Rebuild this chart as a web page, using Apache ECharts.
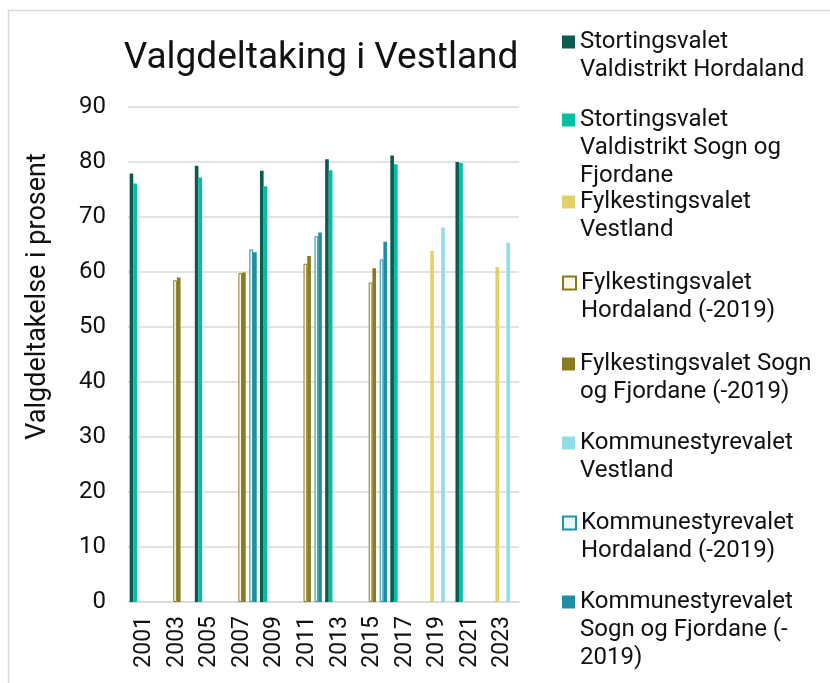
<!DOCTYPE html>
<html>
<head>
<meta charset="utf-8">
<script src="https://cdn.jsdelivr.net/npm/echarts@6/dist/echarts.min.js"></script>
<style>
  html, body { margin: 0; padding: 0; background: #fff; }
  #chart { width: 830px; height: 683px; }
</style>
</head>
<body>
<div id="chart"></div>
<script>
// valår (kategoriar)
const years = ['2001', '2003', '2005', '2007', '2009', '2011', '2013', '2015', '2017', '2019', '2021', '2023'];
const yTicks = [0, 90, 10]; // min, max, interval

// valdeltaking i prosent, null = ikkje val det året
const stortingHordaland = [77.9, null, 79.3, null, 78.4, null, 80.5, null, 81.2, null, 80.0, null];
const stortingSogn      = [76.1, null, 77.2, null, 75.6, null, 78.5, null, 79.6, null, 79.8, null];
const fylkeVestland     = [null, null, null, null, null, null, null, null, null, 63.8, null, 60.9];
const fylkeHordaland    = [null, 58.5, null, 59.8, null, 61.5, null, 58.1, null, null, null, null];
const fylkeSogn         = [null, 59.0, null, 59.9, null, 62.9, null, 60.7, null, null, null, null];
const kommuneVestland   = [null, null, null, null, null, null, null, null, null, 68.1, null, 65.3];
const kommuneHordaland  = [null, null, null, 64.1, null, 66.5, null, 62.3, null, null, null, null];
const kommuneSogn       = [null, null, null, 63.6, null, 67.2, null, 65.5, null, null, null, null];

const seriesNames = [
    'Stortingsvalet Valdistrikt Hordaland',
    'Stortingsvalet Valdistrikt Sogn og Fjordane',
    'Fylkestingsvalet Vestland',
    'Fylkestingsvalet Hordaland (-2019)',
    'Fylkestingsvalet Sogn og Fjordane (-2019)',
    'Kommunestyrevalet Vestland',
    'Kommunestyrevalet Hordaland (-2019)',
    'Kommunestyrevalet Sogn og Fjordane (-2019)'
];
// legend-tekst med linjeskift slik som i originalen
const legendLines = [
    ['Stortingsvalet', 'Valdistrikt Hordaland'],
    ['Stortingsvalet', 'Valdistrikt Sogn og', 'Fjordane'],
    ['Fylkestingsvalet', 'Vestland'],
    ['Fylkestingsvalet', 'Hordaland (-2019)'],
    ['Fylkestingsvalet Sogn', 'og Fjordane (-2019)'],
    ['Kommunestyrevalet', 'Vestland'],
    ['Kommunestyrevalet', 'Hordaland (-2019)'],
    ['Kommunestyrevalet', 'Sogn og Fjordane (-', '2019)']
];
const seriesData = [stortingHordaland, stortingSogn, fylkeVestland, fylkeHordaland,
    fylkeSogn, kommuneVestland, kommuneHordaland, kommuneSogn];

const styles = [
    { color: '#0b5c50' },
    { color: '#00bfa5' },
    { color: '#e1d16b' },
    { color: '#fbf9e8', borderColor: '#8a7a1e', borderWidth: 1 },
    { color: '#8a7a21' },
    { color: '#92dcea' },
    { color: '#e8f7fb', borderColor: '#2590a6', borderWidth: 1 },
    { color: '#1f8ea4' }
];

const legendMarkerY = [42, 120, 202, 283, 364, 443, 523, 602];
const lineH = 28;
const font = 'Roboto, "Noto Sans", sans-serif';
const textColor = '#111';

// markøren står midt på teksten, så tomme linjer over flyttar fyrste linje ned til markøren
const legends = seriesNames.map((name, i) => {
    const n = legendLines[i].length;
    const blank = new Array(n - 1).fill('');
    return {
        data: [name],
        left: 562,
        top: legendMarkerY[i] - (2 * n - 1) * lineH / 2,
        padding: 0,
        icon: 'rect',
        itemWidth: 13,
        itemHeight: 13,
        selectedMode: false,
        formatter: () => blank.concat(legendLines[i]).join('\n'),
        textStyle: { fontSize: 24, lineHeight: lineH, fontFamily: font, color: textColor }
    };
});

const chart = echarts.init(document.getElementById('chart'));
chart.setOption({
    animation: false,
    backgroundColor: '#fff',
    textStyle: { fontFamily: font },
    title: {
        text: 'Valgdeltaking i Vestland',
        left: 316,
        textAlign: 'center',
        top: 35,
        textStyle: { fontSize: 37, fontWeight: 'normal', color: textColor, fontFamily: font }
    },
    graphic: [{
        type: 'rect',
        left: 6,
        top: 8,
        shape: { width: 900, height: 800 },
        style: { fill: 'none', stroke: '#d9d9d9', lineWidth: 1.5 },
        silent: true
    }],
    legend: legends,
    grid: { left: 128, top: 107, width: 391, height: 495 },
    xAxis: {
        type: 'category',
        data: years,
        axisLine: { lineStyle: { color: '#d9d9d9', width: 1.5 } },
        axisTick: { show: false },
        axisLabel: {
            rotate: 90,
            interval: 0,
            margin: 14,
            fontSize: 23,
            color: textColor,
            fontFamily: font
        }
    },
    yAxis: {
        type: 'value',
        min: yTicks[0],
        max: yTicks[1],
        interval: yTicks[2],
        name: 'Valgdeltakelse i prosent',
        nameLocation: 'middle',
        nameRotate: 90,
        nameGap: 76,
        nameTextStyle: { fontSize: 27, color: textColor, fontFamily: font, padding: [0, 0, 0, 116] },
        axisLine: { show: false },
        axisTick: { show: false },
        axisLabel: { fontSize: 24, margin: 22, color: textColor, fontFamily: font },
        splitLine: { lineStyle: { color: '#d9d9d9', width: 1.5 } }
    },
    series: seriesNames.map((name, i) => ({
        name: name,
        type: 'bar',
        data: seriesData[i],
        barGap: '0%',
        barCategoryGap: '10%',
        itemStyle: styles[i]
    }))
});
</script>
</body>
</html>
